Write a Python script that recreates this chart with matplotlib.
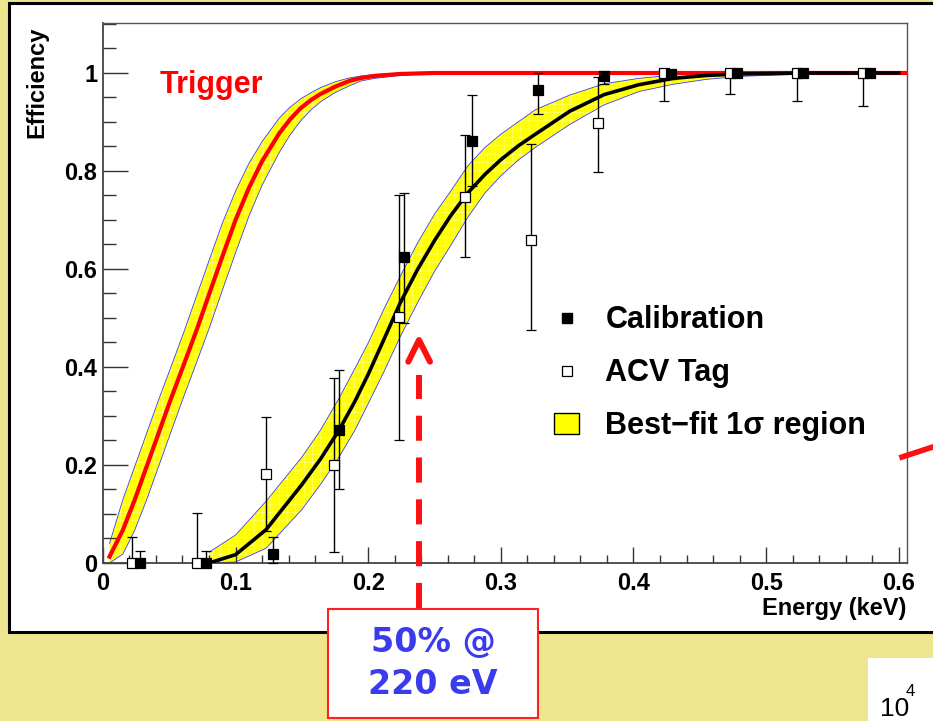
import matplotlib
matplotlib.use("Agg")
import matplotlib.pyplot as plt
from matplotlib.patches import Rectangle, Patch
from matplotlib.lines import Line2D
from matplotlib.ticker import MultipleLocator, FuncFormatter

plt.rcParams["hatch.linewidth"] = 0.35
FONT = "Liberation Sans"

# ---- data ----
# trigger efficiency fit (red) and its 1-sigma band
trig_E = [0.005, 0.015, 0.024, 0.033, 0.042, 0.051, 0.061, 0.071, 0.080, 0.090, 0.100,
          0.110, 0.120, 0.133, 0.141, 0.149, 0.157, 0.164, 0.175, 0.186, 0.195, 0.205,
          0.224, 0.250, 0.350, 0.606]
trig_eff = [0.013, 0.067, 0.129, 0.197, 0.265, 0.333, 0.405, 0.478, 0.548, 0.625, 0.700,
            0.765, 0.820, 0.877, 0.905, 0.928, 0.945, 0.957, 0.972, 0.984, 0.990, 0.994,
            0.998, 1.0, 1.0, 1.0]
trig_hi = [0.040, 0.129, 0.197, 0.265, 0.333, 0.398, 0.471, 0.548, 0.617, 0.693, 0.759,
           0.815, 0.860, 0.908, 0.930, 0.947, 0.960, 0.970, 0.982, 0.990, 0.994, 0.997,
           1.0, 1.0, 1.0, 1.0]
trig_lo = [0.0, 0.018, 0.067, 0.129, 0.197, 0.265, 0.340, 0.412, 0.478, 0.556, 0.633,
           0.707, 0.771, 0.838, 0.873, 0.902, 0.925, 0.941, 0.960, 0.974, 0.984, 0.989,
           0.995, 0.999, 1.0, 1.0]

# analysis efficiency fit (black) and its 1-sigma band
fit_E = [0.080, 0.100, 0.123, 0.150, 0.164, 0.178, 0.190, 0.200, 0.212, 0.224, 0.237,
         0.250, 0.262, 0.275, 0.288, 0.300, 0.313, 0.326, 0.352, 0.378, 0.404, 0.430,
         0.455, 0.480, 0.530, 0.600]
fit_eff = [0.0, 0.017, 0.068, 0.160, 0.212, 0.271, 0.330, 0.385, 0.457, 0.530, 0.598,
           0.658, 0.708, 0.755, 0.793, 0.823, 0.851, 0.875, 0.922, 0.956, 0.976, 0.989,
           0.995, 0.998, 1.0, 1.0]
fit_hi = [0.022, 0.057, 0.126, 0.216, 0.271, 0.336, 0.397, 0.449, 0.519, 0.584, 0.652,
          0.712, 0.758, 0.810, 0.848, 0.875, 0.900, 0.925, 0.955, 0.978, 0.989, 0.996,
          0.999, 1.0, 1.0, 1.0]
fit_lo = [0.0, 0.002, 0.030, 0.109, 0.160, 0.216, 0.271, 0.325, 0.391, 0.461, 0.530,
          0.595, 0.647, 0.705, 0.755, 0.790, 0.822, 0.848, 0.895, 0.935, 0.962, 0.977,
          0.987, 0.993, 0.998, 0.9995]

# calibration points (filled squares)
cal_E = [0.028, 0.078, 0.128, 0.178, 0.227, 0.278, 0.328, 0.378, 0.428, 0.478, 0.528, 0.578]
cal_eff = [0.0, 0.0, 0.019, 0.271, 0.625, 0.862, 0.965, 0.993, 0.998, 1.0, 1.0, 1.0]
cal_lo = [0.0, 0.0, 0.019, 0.120, 0.135, 0.092, 0.049, 0.016, 0.005, 0.004, 0.004, 0.004]
cal_hi = [0.025, 0.025, 0.035, 0.123, 0.131, 0.094, 0.035, 0.007, 0.002, 0.0, 0.0, 0.0]

# ACV-tagged points (open squares)
acv_E = [0.022, 0.071, 0.123, 0.174, 0.223, 0.273, 0.323, 0.373, 0.423, 0.473, 0.523, 0.573]
acv_eff = [0.0, 0.0, 0.181, 0.200, 0.503, 0.747, 0.660, 0.897, 1.0, 1.0, 1.0, 1.0]
acv_lo = [0.0, 0.0, 0.115, 0.177, 0.253, 0.122, 0.185, 0.099, 0.057, 0.043, 0.057, 0.068]
acv_hi = [0.053, 0.103, 0.116, 0.178, 0.248, 0.126, 0.195, 0.095, 0.0, 0.0, 0.0, 0.0]

labels = ["Calibration", "ACV Tag", "Best\u2212fit 1\u03c3 region"]

# ---- figure / slide ----
W, H = 933, 721
fig = plt.figure(figsize=(W / 100, H / 100), dpi=100, facecolor="#EEE68E")
def fp(x, y): return (x / W, 1 - y / H)     # slide pixel -> figure fraction

fig.add_artist(Rectangle(fp(9, 632), (W + 20) / W, (632 - 3) / H, transform=fig.transFigure,
                         facecolor="white", edgecolor="black", lw=2.2, zorder=-1))

ax = fig.add_axes([102.9 / W, 1 - 563 / H, (906.7 - 102.9) / W, (563 - 23) / H])
ax.set_facecolor("white")
ax.set_xlim(0, 0.606); ax.set_ylim(0, 1.102)

def band(E, lo, hi):
    xs = list(E) + list(E)[::-1]; ys = list(hi) + list(lo)[::-1]
    ax.fill(xs, ys, facecolor="#FFFF00", edgecolor="none", zorder=1)
    ax.fill(xs, ys, facecolor="none", edgecolor="#FFFFB0", hatch="++", lw=0, zorder=1.1)
    ax.plot(E, hi, color="#3C3CFF", lw=0.6, zorder=1.2)
    ax.plot(E, lo, color="#3C3CFF", lw=0.6, zorder=1.2)

band(trig_E, trig_lo, trig_hi)
band(fit_E, fit_lo, fit_hi)
ax.plot(trig_E, trig_eff, color="#FF0000", lw=3, zorder=3, solid_joinstyle="round")
ax.plot(fit_E, fit_eff, color="black", lw=2.6, zorder=4, solid_joinstyle="round")

for E, eff, lo, hi, face in [(acv_E, acv_eff, acv_lo, acv_hi, "white"),
                             (cal_E, cal_eff, cal_lo, cal_hi, "black")]:
    c = ax.errorbar(E, eff, yerr=[lo, hi], fmt="s", ms=7.5, mfc=face, mec="black", mew=0.9,
                    ecolor="black", elinewidth=1, capsize=3.5, capthick=1, zorder=6)
    for a in c.get_children():
        a.set_clip_on(False)

ax.text(0.043, 0.959, "Trigger", color="#FF0000", fontsize=22, fontweight="bold",
        family=FONT, va="baseline")

handles = [Line2D([], [], ls="none", marker="s", ms=6.5, mfc="black", mec="black"),
           Line2D([], [], ls="none", marker="s", ms=7, mfc="white", mec="black", mew=0.9),
           Patch(facecolor="#FFFF00", edgecolor="black", lw=1)]
ax.legend(handles, labels, loc="upper left", bbox_to_anchor=(0.5616, 0.477), frameon=False,
          borderpad=0, borderaxespad=0, handlelength=0.82, handleheight=0.69,
          handletextpad=0.85, labelspacing=0.75,
          prop={"family": FONT, "weight": "bold", "size": 22})

# axes styling (ROOT look)
fmt = FuncFormatter(lambda v, p: f"{v:g}")
ax.xaxis.set_major_locator(MultipleLocator(0.1)); ax.xaxis.set_minor_locator(MultipleLocator(0.02))
ax.yaxis.set_major_locator(MultipleLocator(0.2)); ax.yaxis.set_minor_locator(MultipleLocator(0.05))
ax.xaxis.set_major_formatter(fmt); ax.yaxis.set_major_formatter(fmt)
ax.tick_params(which="both", direction="in", top=False, right=False, color="#333333", width=1)
ax.tick_params(axis="y", which="major", length=18, pad=4)
ax.tick_params(axis="y", which="minor", length=9.4)
ax.tick_params(axis="x", which="major", length=11.5, pad=6.3)
ax.tick_params(axis="x", which="minor", length=6)
for lab in ax.get_xticklabels() + ax.get_yticklabels():
    lab.set_family(FONT); lab.set_fontweight("bold"); lab.set_fontsize(17)
for s in ["left", "bottom"]:
    ax.spines[s].set_color("#444444"); ax.spines[s].set_linewidth(1.3)
for s in ["top", "right"]:
    ax.spines[s].set_color("#555555"); ax.spines[s].set_linewidth(1.0)

ax.set_xlabel("Energy (keV)", loc="right", family=FONT, fontweight="bold", fontsize=17)
ax.xaxis.set_label_coords(1.0, -0.063)
ax.set_ylabel("Efficiency", loc="top", family=FONT, fontweight="bold", fontsize=17)
ax.yaxis.set_label_coords(-0.068, 0.993)

# ---- slide annotations ----
ax_x = 419
fig.add_artist(Line2D([ax_x / W, ax_x / W], [1 - 608 / H, 1 - 375 / H], transform=fig.transFigure,
                      color="#FF1010", lw=4.3, ls=(0, (4.2, 2.8)), zorder=5))
fig.add_artist(Line2D([408.3 / W, ax_x / W, 430 / W], [1 - 361.7 / H, 1 - 340 / H, 1 - 361.7 / H],
                      transform=fig.transFigure, color="#FF1010", lw=4.3,
                      solid_capstyle="round", solid_joinstyle="round", zorder=5))
fig.add_artist(Rectangle(fp(328, 718), (538 - 328) / W, (718 - 609) / H, transform=fig.transFigure,
                         facecolor="white", edgecolor="#FF2020", lw=1.5, zorder=5))
fig.text(433 / W, 1 - 643 / H, "50% @", ha="center", va="center", fontsize=24,
         fontweight="bold", color="#3B3BEE", family="DejaVu Sans", zorder=6)
fig.text(433 / W, 1 - 684 / H, "220 eV", ha="center", va="center", fontsize=24,
         fontweight="bold", color="#3B3BEE", family="DejaVu Sans", zorder=6)

fig.add_artist(Line2D([902 / W, 945 / W], [1 - 457 / H, 1 - 443 / H], transform=fig.transFigure,
                      color="#FF1010", lw=4, zorder=5))

fig.add_artist(Rectangle(fp(868, 721), 70 / W, (721 - 658) / H, transform=fig.transFigure,
                         facecolor="white", edgecolor="none", zorder=5))
fig.text(880 / W, 1 - 716 / H, "10", fontsize=19, family=FONT, va="baseline", zorder=6)
fig.text(906 / W, 1 - 696 / H, "4", fontsize=12, family=FONT, va="baseline", zorder=6)

fig.savefig("out.png", dpi=100, facecolor=fig.get_facecolor())
